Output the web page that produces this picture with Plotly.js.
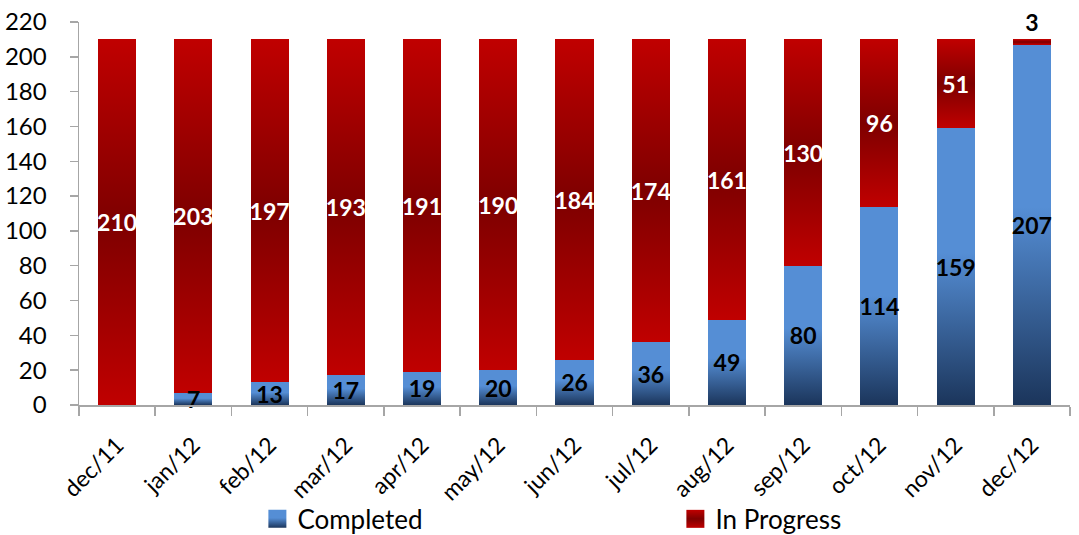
<!DOCTYPE html>
<html>
<head>
<meta charset="utf-8">
<script src="https://cdn.plot.ly/plotly-3.0.1.min.js"></script>
<style>
  html, body { margin: 0; padding: 0; background: #fff; }
  #chart { width: 1079px; height: 535px; }
</style>
</head>
<body>
<div id="chart"></div>
<script>
const months = ['dec/11','jan/12','feb/12','mar/12','apr/12','may/12','jun/12','jul/12','aug/12','sep/12','oct/12','nov/12','dec/12'];
const completed = [0, 7, 13, 17, 19, 20, 26, 36, 49, 80, 114, 159, 207];
const inProgress = [210, 203, 197, 193, 191, 190, 184, 174, 161, 130, 96, 51, 3];

const FONT = 'Lato, "Open Sans", sans-serif';

const traceCompleted = {
  type: 'bar', name: 'Completed', x: months, y: completed,
  text: completed.map(v => v === 0 ? '' : String(v)),
  textposition: 'inside', insidetextanchor: 'middle', textangle: 0,
  constraintext: 'none', cliponaxis: false,
  insidetextfont: {family: FONT, size: 23, color: '#000000', weight: 'bold'},
  marker: {color: '#558ED5', line: {width: 0}},
  legendwidth: 373,
  hoverinfo: 'x+y'
};
const traceInProgress = {
  type: 'bar', name: 'In Progress', x: months, y: inProgress,
  text: inProgress.map(String),
  textposition: inProgress.map((v, i) => i === inProgress.length - 1 ? 'outside' : 'inside'),
  insidetextanchor: 'middle', textangle: 0, constraintext: 'none',
  insidetextfont: {family: FONT, size: 23, color: '#FFFFFF', weight: 'bold'},
  outsidetextfont: {family: FONT, size: 23, color: '#000000', weight: 'bold'},
  cliponaxis: false,
  marker: {color: '#A00000', line: {width: 0}},
  hoverinfo: 'x+y'
};

const layout = {
  width: 1079, height: 535,
  margin: {l: 79, r: 9, t: 22, b: 130},
  paper_bgcolor: '#ffffff', plot_bgcolor: '#ffffff',
  barmode: 'stack', bargap: 0.5,
  font: {family: FONT, color: '#000000'},
  showlegend: true,
  legend: {
    orientation: 'h', x: 0.18, xanchor: 'left',
    yref: 'container', y: 0.03, yanchor: 'middle',
    font: {family: FONT, size: 26, color: '#000000'},
    bgcolor: 'rgba(0,0,0,0)', traceorder: 'normal'
  },
  xaxis: {
    type: 'category', showline: true, linecolor: '#A6A6A6', linewidth: 1.5,
    ticks: 'outside', tickson: 'boundaries', ticklen: 9, tickcolor: '#A6A6A6', tickwidth: 1.5,
    tickangle: -45, tickfont: {family: FONT, size: 23, color: '#000000'},
    ticklabelstandoff: 16,
    showgrid: false, zeroline: false, automargin: false
  },
  yaxis: {
    range: [0, 220], dtick: 20, tick0: 0,
    showline: true, linecolor: '#A6A6A6', linewidth: 1.5,
    ticks: 'outside', ticklen: 8, tickcolor: '#A6A6A6', tickwidth: 1.5,
    tickfont: {family: FONT, size: 24, color: '#000000'},
    ticklabelstandoff: 18,
    showgrid: false, zeroline: false, automargin: false
  }
};

function addGradients(gd) {
  const svg = gd.querySelector('svg.main-svg');
  if (!svg) return;
  const ns = 'http://www.w3.org/2000/svg';
  let defs = svg.querySelector('defs');
  if (!defs) { defs = document.createElementNS(ns, 'defs'); svg.insertBefore(defs, svg.firstChild); }
  function grad(id, stops) {
    const g = document.createElementNS(ns, 'linearGradient');
    g.setAttribute('id', id);
    g.setAttribute('x1', '0'); g.setAttribute('y1', '0');
    g.setAttribute('x2', '0'); g.setAttribute('y2', '1');
    stops.forEach(([o, c]) => {
      const s = document.createElementNS(ns, 'stop');
      s.setAttribute('offset', o); s.setAttribute('stop-color', c);
      g.appendChild(s);
    });
    defs.appendChild(g);
  }
  grad('gradBlue', [['0', '#558ED5'], ['0.45', '#558ED5'], ['1', '#1B355B']]);
  grad('gradRed', [['0', '#C00000'], ['0.5', '#7E0000'], ['1', '#C00000']]);
  const traces = Array.from(gd.querySelectorAll('.barlayer .trace'));
  traces.forEach((t, i) => {
    const id = i === 0 ? 'gradBlue' : 'gradRed';
    t.querySelectorAll('.point path').forEach(p => { p.style.fill = 'url(#' + id + ')'; });
  });
  // draw the Completed group last so its labels are not hidden by the stacked bars above
  if (traces.length > 1) traces[0].parentNode.appendChild(traces[0]);
  const legPts = gd.querySelectorAll('.legend .traces');
  legPts.forEach((t, i) => {
    const id = i === 0 ? 'gradBlue' : 'gradRed';
    t.querySelectorAll('.legendpoints path').forEach(p => {
      p.setAttribute('d', 'M9,9H-9V-9H9Z');
      p.style.fill = 'url(#' + id + ')';
      p.style.strokeWidth = '0';
    });
  });
}

Plotly.newPlot('chart', [traceCompleted, traceInProgress], layout, {displayModeBar: false, staticPlot: true})
  .then(gd => addGradients(gd));
</script>
</body>
</html>
